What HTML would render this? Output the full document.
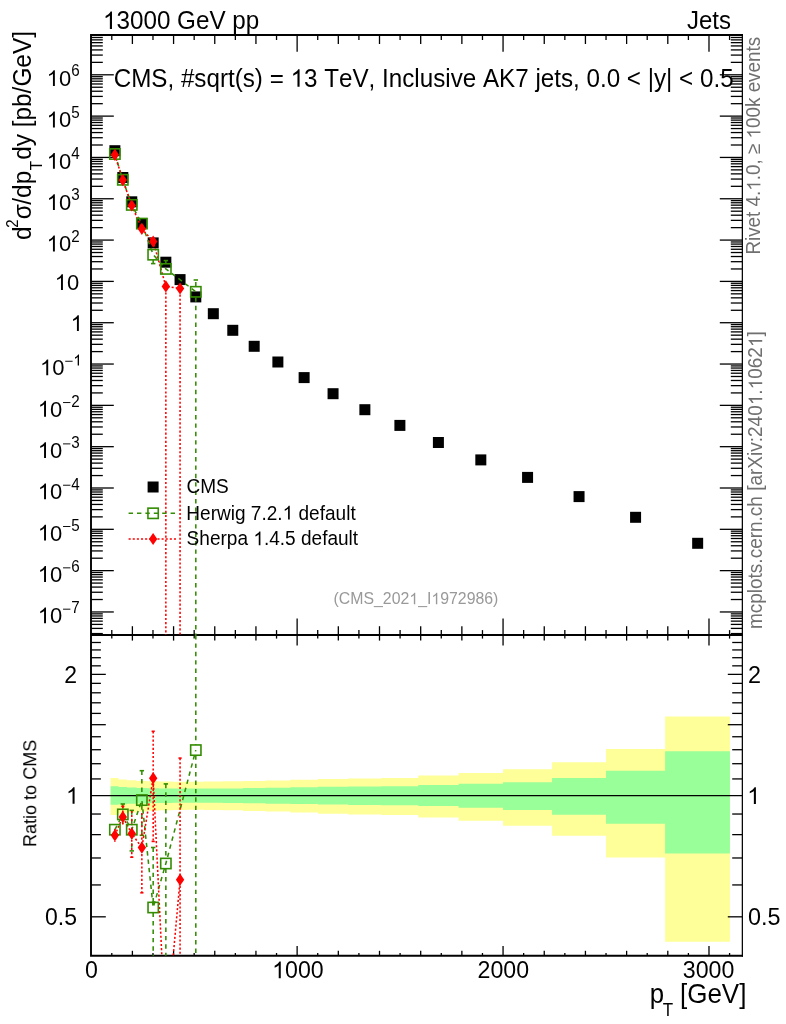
<!DOCTYPE html>
<html><head><meta charset="utf-8"><title>CMS jets</title>
<style>
html,body{margin:0;padding:0;background:#fff;}
body{width:786px;height:1024px;overflow:hidden;}
svg{display:block;font-family:"Liberation Sans", sans-serif;}
svg text{font-family:"Liberation Sans", sans-serif;font-kerning:none;white-space:pre;}
.tx{opacity:0.999;}
</style></head><body>
<svg width="786" height="1024" viewBox="0 0 786 1024">
<rect width="786" height="1024" fill="#fff"/>
<g class="tx">
<polygon points="110.60,778.10 118.59,778.10 118.59,779.60 127.03,779.60 127.03,780.30 136.50,780.30 136.50,780.90 147.21,780.90 147.21,781.30 159.16,781.30 159.16,781.60 172.54,781.60 172.54,781.70 187.58,781.70 187.58,781.70 204.05,781.70 204.05,781.60 222.58,781.60 222.58,781.30 242.97,781.30 242.97,780.90 265.42,780.90 265.42,780.40 290.33,780.40 290.33,779.80 317.93,779.80 317.93,779.00 348.20,779.00 348.20,778.60 381.56,778.60 381.56,778.00 418.22,778.00 418.22,775.50 458.58,775.50 458.58,773.00 503.06,773.00 503.06,769.30 552.07,769.30 552.07,762.20 606.03,762.20 606.03,748.90 665.13,748.90 665.13,716.60 729.95,716.60 729.95,941.80 665.13,941.80 665.13,857.60 606.03,857.60 606.03,835.80 552.07,835.80 552.07,825.70 503.06,825.70 503.06,820.80 458.58,820.80 458.58,817.50 418.22,817.50 418.22,815.10 381.56,815.10 381.56,814.40 348.20,814.40 348.20,813.80 317.93,813.80 317.93,812.60 290.33,812.60 290.33,811.60 265.42,811.60 265.42,810.90 242.97,810.90 242.97,810.30 222.58,810.30 222.58,809.90 204.05,809.90 204.05,809.70 187.58,809.70 187.58,809.90 172.54,809.90 172.54,810.20 159.16,810.20 159.16,810.70 147.21,810.70 147.21,811.50 136.50,811.50 136.50,812.50 127.03,812.50 127.03,813.50 118.59,813.50 118.59,815.00 110.60,815.00" fill="#ffff99"/>
<polygon points="110.60,786.30 118.59,786.30 118.59,787.00 127.03,787.00 127.03,787.60 136.50,787.60 136.50,788.00 147.21,788.00 147.21,788.30 159.16,788.30 159.16,788.50 172.54,788.50 172.54,788.60 187.58,788.60 187.58,788.60 204.05,788.60 204.05,788.60 222.58,788.60 222.58,788.40 242.97,788.40 242.97,788.10 265.42,788.10 265.42,787.80 290.33,787.80 290.33,787.30 317.93,787.30 317.93,786.80 348.20,786.80 348.20,786.60 381.56,786.60 381.56,786.20 418.22,786.20 418.22,785.00 458.58,785.00 458.58,783.70 503.06,783.70 503.06,782.20 552.07,782.20 552.07,778.00 606.03,778.00 606.03,770.80 665.13,770.80 665.13,751.30 729.95,751.30 729.95,853.60 665.13,853.60 665.13,823.70 606.03,823.70 606.03,814.70 552.07,814.70 552.07,810.00 503.06,810.00 503.06,807.80 458.58,807.80 458.58,806.10 418.22,806.10 418.22,805.20 381.56,805.20 381.56,804.90 348.20,804.90 348.20,804.60 317.93,804.60 317.93,804.10 290.33,804.10 290.33,803.70 265.42,803.70 265.42,803.30 242.97,803.30 242.97,803.00 222.58,803.00 222.58,802.80 204.05,802.80 204.05,802.80 187.58,802.80 187.58,802.80 172.54,802.80 172.54,802.90 159.16,802.90 159.16,803.10 147.21,803.10 147.21,803.40 136.50,803.40 136.50,803.80 127.03,803.80 127.03,804.30 118.59,804.30 118.59,804.80 110.60,804.80" fill="#99ff99"/>
<line x1="91.00" y1="795.60" x2="742.00" y2="795.60" stroke="#000" stroke-width="1.3" />
<path d="M742.95,35.0 H91.0 V955.8 H742.95" fill="none" stroke="#000" stroke-width="1.9" stroke-linejoin="miter"/>
<line x1="742.35" y1="34.05" x2="742.35" y2="956.75" stroke="#000" stroke-width="1.25" />
<line x1="91.00" y1="635.00" x2="742.90" y2="635.00" stroke="#000" stroke-width="1.8" />
<line x1="91.00" y1="633.57" x2="102.80" y2="633.57" stroke="#000" stroke-width="1.3" />
<line x1="742.00" y1="633.57" x2="730.80" y2="633.57" stroke="#000" stroke-width="1.3" />
<line x1="91.00" y1="628.40" x2="102.80" y2="628.40" stroke="#000" stroke-width="1.3" />
<line x1="742.00" y1="628.40" x2="730.80" y2="628.40" stroke="#000" stroke-width="1.3" />
<line x1="91.00" y1="624.40" x2="102.80" y2="624.40" stroke="#000" stroke-width="1.3" />
<line x1="742.00" y1="624.40" x2="730.80" y2="624.40" stroke="#000" stroke-width="1.3" />
<line x1="91.00" y1="621.13" x2="102.80" y2="621.13" stroke="#000" stroke-width="1.3" />
<line x1="742.00" y1="621.13" x2="730.80" y2="621.13" stroke="#000" stroke-width="1.3" />
<line x1="91.00" y1="618.36" x2="102.80" y2="618.36" stroke="#000" stroke-width="1.3" />
<line x1="742.00" y1="618.36" x2="730.80" y2="618.36" stroke="#000" stroke-width="1.3" />
<line x1="91.00" y1="615.96" x2="102.80" y2="615.96" stroke="#000" stroke-width="1.3" />
<line x1="742.00" y1="615.96" x2="730.80" y2="615.96" stroke="#000" stroke-width="1.3" />
<line x1="91.00" y1="613.85" x2="102.80" y2="613.85" stroke="#000" stroke-width="1.3" />
<line x1="742.00" y1="613.85" x2="730.80" y2="613.85" stroke="#000" stroke-width="1.3" />
<line x1="91.00" y1="611.96" x2="113.80" y2="611.96" stroke="#000" stroke-width="1.3" />
<line x1="742.00" y1="611.96" x2="719.80" y2="611.96" stroke="#000" stroke-width="1.3" />
<line x1="91.00" y1="599.52" x2="102.80" y2="599.52" stroke="#000" stroke-width="1.3" />
<line x1="742.00" y1="599.52" x2="730.80" y2="599.52" stroke="#000" stroke-width="1.3" />
<line x1="91.00" y1="592.25" x2="102.80" y2="592.25" stroke="#000" stroke-width="1.3" />
<line x1="742.00" y1="592.25" x2="730.80" y2="592.25" stroke="#000" stroke-width="1.3" />
<line x1="91.00" y1="587.08" x2="102.80" y2="587.08" stroke="#000" stroke-width="1.3" />
<line x1="742.00" y1="587.08" x2="730.80" y2="587.08" stroke="#000" stroke-width="1.3" />
<line x1="91.00" y1="583.08" x2="102.80" y2="583.08" stroke="#000" stroke-width="1.3" />
<line x1="742.00" y1="583.08" x2="730.80" y2="583.08" stroke="#000" stroke-width="1.3" />
<line x1="91.00" y1="579.81" x2="102.80" y2="579.81" stroke="#000" stroke-width="1.3" />
<line x1="742.00" y1="579.81" x2="730.80" y2="579.81" stroke="#000" stroke-width="1.3" />
<line x1="91.00" y1="577.04" x2="102.80" y2="577.04" stroke="#000" stroke-width="1.3" />
<line x1="742.00" y1="577.04" x2="730.80" y2="577.04" stroke="#000" stroke-width="1.3" />
<line x1="91.00" y1="574.64" x2="102.80" y2="574.64" stroke="#000" stroke-width="1.3" />
<line x1="742.00" y1="574.64" x2="730.80" y2="574.64" stroke="#000" stroke-width="1.3" />
<line x1="91.00" y1="572.53" x2="102.80" y2="572.53" stroke="#000" stroke-width="1.3" />
<line x1="742.00" y1="572.53" x2="730.80" y2="572.53" stroke="#000" stroke-width="1.3" />
<line x1="91.00" y1="570.64" x2="113.80" y2="570.64" stroke="#000" stroke-width="1.3" />
<line x1="742.00" y1="570.64" x2="719.80" y2="570.64" stroke="#000" stroke-width="1.3" />
<line x1="91.00" y1="558.20" x2="102.80" y2="558.20" stroke="#000" stroke-width="1.3" />
<line x1="742.00" y1="558.20" x2="730.80" y2="558.20" stroke="#000" stroke-width="1.3" />
<line x1="91.00" y1="550.93" x2="102.80" y2="550.93" stroke="#000" stroke-width="1.3" />
<line x1="742.00" y1="550.93" x2="730.80" y2="550.93" stroke="#000" stroke-width="1.3" />
<line x1="91.00" y1="545.76" x2="102.80" y2="545.76" stroke="#000" stroke-width="1.3" />
<line x1="742.00" y1="545.76" x2="730.80" y2="545.76" stroke="#000" stroke-width="1.3" />
<line x1="91.00" y1="541.76" x2="102.80" y2="541.76" stroke="#000" stroke-width="1.3" />
<line x1="742.00" y1="541.76" x2="730.80" y2="541.76" stroke="#000" stroke-width="1.3" />
<line x1="91.00" y1="538.49" x2="102.80" y2="538.49" stroke="#000" stroke-width="1.3" />
<line x1="742.00" y1="538.49" x2="730.80" y2="538.49" stroke="#000" stroke-width="1.3" />
<line x1="91.00" y1="535.72" x2="102.80" y2="535.72" stroke="#000" stroke-width="1.3" />
<line x1="742.00" y1="535.72" x2="730.80" y2="535.72" stroke="#000" stroke-width="1.3" />
<line x1="91.00" y1="533.32" x2="102.80" y2="533.32" stroke="#000" stroke-width="1.3" />
<line x1="742.00" y1="533.32" x2="730.80" y2="533.32" stroke="#000" stroke-width="1.3" />
<line x1="91.00" y1="531.21" x2="102.80" y2="531.21" stroke="#000" stroke-width="1.3" />
<line x1="742.00" y1="531.21" x2="730.80" y2="531.21" stroke="#000" stroke-width="1.3" />
<line x1="91.00" y1="529.32" x2="113.80" y2="529.32" stroke="#000" stroke-width="1.3" />
<line x1="742.00" y1="529.32" x2="719.80" y2="529.32" stroke="#000" stroke-width="1.3" />
<line x1="91.00" y1="516.88" x2="102.80" y2="516.88" stroke="#000" stroke-width="1.3" />
<line x1="742.00" y1="516.88" x2="730.80" y2="516.88" stroke="#000" stroke-width="1.3" />
<line x1="91.00" y1="509.61" x2="102.80" y2="509.61" stroke="#000" stroke-width="1.3" />
<line x1="742.00" y1="509.61" x2="730.80" y2="509.61" stroke="#000" stroke-width="1.3" />
<line x1="91.00" y1="504.44" x2="102.80" y2="504.44" stroke="#000" stroke-width="1.3" />
<line x1="742.00" y1="504.44" x2="730.80" y2="504.44" stroke="#000" stroke-width="1.3" />
<line x1="91.00" y1="500.44" x2="102.80" y2="500.44" stroke="#000" stroke-width="1.3" />
<line x1="742.00" y1="500.44" x2="730.80" y2="500.44" stroke="#000" stroke-width="1.3" />
<line x1="91.00" y1="497.17" x2="102.80" y2="497.17" stroke="#000" stroke-width="1.3" />
<line x1="742.00" y1="497.17" x2="730.80" y2="497.17" stroke="#000" stroke-width="1.3" />
<line x1="91.00" y1="494.40" x2="102.80" y2="494.40" stroke="#000" stroke-width="1.3" />
<line x1="742.00" y1="494.40" x2="730.80" y2="494.40" stroke="#000" stroke-width="1.3" />
<line x1="91.00" y1="492.00" x2="102.80" y2="492.00" stroke="#000" stroke-width="1.3" />
<line x1="742.00" y1="492.00" x2="730.80" y2="492.00" stroke="#000" stroke-width="1.3" />
<line x1="91.00" y1="489.89" x2="102.80" y2="489.89" stroke="#000" stroke-width="1.3" />
<line x1="742.00" y1="489.89" x2="730.80" y2="489.89" stroke="#000" stroke-width="1.3" />
<line x1="91.00" y1="488.00" x2="113.80" y2="488.00" stroke="#000" stroke-width="1.3" />
<line x1="742.00" y1="488.00" x2="719.80" y2="488.00" stroke="#000" stroke-width="1.3" />
<line x1="91.00" y1="475.56" x2="102.80" y2="475.56" stroke="#000" stroke-width="1.3" />
<line x1="742.00" y1="475.56" x2="730.80" y2="475.56" stroke="#000" stroke-width="1.3" />
<line x1="91.00" y1="468.29" x2="102.80" y2="468.29" stroke="#000" stroke-width="1.3" />
<line x1="742.00" y1="468.29" x2="730.80" y2="468.29" stroke="#000" stroke-width="1.3" />
<line x1="91.00" y1="463.12" x2="102.80" y2="463.12" stroke="#000" stroke-width="1.3" />
<line x1="742.00" y1="463.12" x2="730.80" y2="463.12" stroke="#000" stroke-width="1.3" />
<line x1="91.00" y1="459.12" x2="102.80" y2="459.12" stroke="#000" stroke-width="1.3" />
<line x1="742.00" y1="459.12" x2="730.80" y2="459.12" stroke="#000" stroke-width="1.3" />
<line x1="91.00" y1="455.85" x2="102.80" y2="455.85" stroke="#000" stroke-width="1.3" />
<line x1="742.00" y1="455.85" x2="730.80" y2="455.85" stroke="#000" stroke-width="1.3" />
<line x1="91.00" y1="453.08" x2="102.80" y2="453.08" stroke="#000" stroke-width="1.3" />
<line x1="742.00" y1="453.08" x2="730.80" y2="453.08" stroke="#000" stroke-width="1.3" />
<line x1="91.00" y1="450.68" x2="102.80" y2="450.68" stroke="#000" stroke-width="1.3" />
<line x1="742.00" y1="450.68" x2="730.80" y2="450.68" stroke="#000" stroke-width="1.3" />
<line x1="91.00" y1="448.57" x2="102.80" y2="448.57" stroke="#000" stroke-width="1.3" />
<line x1="742.00" y1="448.57" x2="730.80" y2="448.57" stroke="#000" stroke-width="1.3" />
<line x1="91.00" y1="446.68" x2="113.80" y2="446.68" stroke="#000" stroke-width="1.3" />
<line x1="742.00" y1="446.68" x2="719.80" y2="446.68" stroke="#000" stroke-width="1.3" />
<line x1="91.00" y1="434.24" x2="102.80" y2="434.24" stroke="#000" stroke-width="1.3" />
<line x1="742.00" y1="434.24" x2="730.80" y2="434.24" stroke="#000" stroke-width="1.3" />
<line x1="91.00" y1="426.97" x2="102.80" y2="426.97" stroke="#000" stroke-width="1.3" />
<line x1="742.00" y1="426.97" x2="730.80" y2="426.97" stroke="#000" stroke-width="1.3" />
<line x1="91.00" y1="421.80" x2="102.80" y2="421.80" stroke="#000" stroke-width="1.3" />
<line x1="742.00" y1="421.80" x2="730.80" y2="421.80" stroke="#000" stroke-width="1.3" />
<line x1="91.00" y1="417.80" x2="102.80" y2="417.80" stroke="#000" stroke-width="1.3" />
<line x1="742.00" y1="417.80" x2="730.80" y2="417.80" stroke="#000" stroke-width="1.3" />
<line x1="91.00" y1="414.53" x2="102.80" y2="414.53" stroke="#000" stroke-width="1.3" />
<line x1="742.00" y1="414.53" x2="730.80" y2="414.53" stroke="#000" stroke-width="1.3" />
<line x1="91.00" y1="411.76" x2="102.80" y2="411.76" stroke="#000" stroke-width="1.3" />
<line x1="742.00" y1="411.76" x2="730.80" y2="411.76" stroke="#000" stroke-width="1.3" />
<line x1="91.00" y1="409.36" x2="102.80" y2="409.36" stroke="#000" stroke-width="1.3" />
<line x1="742.00" y1="409.36" x2="730.80" y2="409.36" stroke="#000" stroke-width="1.3" />
<line x1="91.00" y1="407.25" x2="102.80" y2="407.25" stroke="#000" stroke-width="1.3" />
<line x1="742.00" y1="407.25" x2="730.80" y2="407.25" stroke="#000" stroke-width="1.3" />
<line x1="91.00" y1="405.36" x2="113.80" y2="405.36" stroke="#000" stroke-width="1.3" />
<line x1="742.00" y1="405.36" x2="719.80" y2="405.36" stroke="#000" stroke-width="1.3" />
<line x1="91.00" y1="392.92" x2="102.80" y2="392.92" stroke="#000" stroke-width="1.3" />
<line x1="742.00" y1="392.92" x2="730.80" y2="392.92" stroke="#000" stroke-width="1.3" />
<line x1="91.00" y1="385.65" x2="102.80" y2="385.65" stroke="#000" stroke-width="1.3" />
<line x1="742.00" y1="385.65" x2="730.80" y2="385.65" stroke="#000" stroke-width="1.3" />
<line x1="91.00" y1="380.48" x2="102.80" y2="380.48" stroke="#000" stroke-width="1.3" />
<line x1="742.00" y1="380.48" x2="730.80" y2="380.48" stroke="#000" stroke-width="1.3" />
<line x1="91.00" y1="376.48" x2="102.80" y2="376.48" stroke="#000" stroke-width="1.3" />
<line x1="742.00" y1="376.48" x2="730.80" y2="376.48" stroke="#000" stroke-width="1.3" />
<line x1="91.00" y1="373.21" x2="102.80" y2="373.21" stroke="#000" stroke-width="1.3" />
<line x1="742.00" y1="373.21" x2="730.80" y2="373.21" stroke="#000" stroke-width="1.3" />
<line x1="91.00" y1="370.44" x2="102.80" y2="370.44" stroke="#000" stroke-width="1.3" />
<line x1="742.00" y1="370.44" x2="730.80" y2="370.44" stroke="#000" stroke-width="1.3" />
<line x1="91.00" y1="368.04" x2="102.80" y2="368.04" stroke="#000" stroke-width="1.3" />
<line x1="742.00" y1="368.04" x2="730.80" y2="368.04" stroke="#000" stroke-width="1.3" />
<line x1="91.00" y1="365.93" x2="102.80" y2="365.93" stroke="#000" stroke-width="1.3" />
<line x1="742.00" y1="365.93" x2="730.80" y2="365.93" stroke="#000" stroke-width="1.3" />
<line x1="91.00" y1="364.04" x2="113.80" y2="364.04" stroke="#000" stroke-width="1.3" />
<line x1="742.00" y1="364.04" x2="719.80" y2="364.04" stroke="#000" stroke-width="1.3" />
<line x1="91.00" y1="351.60" x2="102.80" y2="351.60" stroke="#000" stroke-width="1.3" />
<line x1="742.00" y1="351.60" x2="730.80" y2="351.60" stroke="#000" stroke-width="1.3" />
<line x1="91.00" y1="344.33" x2="102.80" y2="344.33" stroke="#000" stroke-width="1.3" />
<line x1="742.00" y1="344.33" x2="730.80" y2="344.33" stroke="#000" stroke-width="1.3" />
<line x1="91.00" y1="339.16" x2="102.80" y2="339.16" stroke="#000" stroke-width="1.3" />
<line x1="742.00" y1="339.16" x2="730.80" y2="339.16" stroke="#000" stroke-width="1.3" />
<line x1="91.00" y1="335.16" x2="102.80" y2="335.16" stroke="#000" stroke-width="1.3" />
<line x1="742.00" y1="335.16" x2="730.80" y2="335.16" stroke="#000" stroke-width="1.3" />
<line x1="91.00" y1="331.89" x2="102.80" y2="331.89" stroke="#000" stroke-width="1.3" />
<line x1="742.00" y1="331.89" x2="730.80" y2="331.89" stroke="#000" stroke-width="1.3" />
<line x1="91.00" y1="329.12" x2="102.80" y2="329.12" stroke="#000" stroke-width="1.3" />
<line x1="742.00" y1="329.12" x2="730.80" y2="329.12" stroke="#000" stroke-width="1.3" />
<line x1="91.00" y1="326.72" x2="102.80" y2="326.72" stroke="#000" stroke-width="1.3" />
<line x1="742.00" y1="326.72" x2="730.80" y2="326.72" stroke="#000" stroke-width="1.3" />
<line x1="91.00" y1="324.61" x2="102.80" y2="324.61" stroke="#000" stroke-width="1.3" />
<line x1="742.00" y1="324.61" x2="730.80" y2="324.61" stroke="#000" stroke-width="1.3" />
<line x1="91.00" y1="322.72" x2="113.80" y2="322.72" stroke="#000" stroke-width="1.3" />
<line x1="742.00" y1="322.72" x2="719.80" y2="322.72" stroke="#000" stroke-width="1.3" />
<line x1="91.00" y1="310.28" x2="102.80" y2="310.28" stroke="#000" stroke-width="1.3" />
<line x1="742.00" y1="310.28" x2="730.80" y2="310.28" stroke="#000" stroke-width="1.3" />
<line x1="91.00" y1="303.01" x2="102.80" y2="303.01" stroke="#000" stroke-width="1.3" />
<line x1="742.00" y1="303.01" x2="730.80" y2="303.01" stroke="#000" stroke-width="1.3" />
<line x1="91.00" y1="297.84" x2="102.80" y2="297.84" stroke="#000" stroke-width="1.3" />
<line x1="742.00" y1="297.84" x2="730.80" y2="297.84" stroke="#000" stroke-width="1.3" />
<line x1="91.00" y1="293.84" x2="102.80" y2="293.84" stroke="#000" stroke-width="1.3" />
<line x1="742.00" y1="293.84" x2="730.80" y2="293.84" stroke="#000" stroke-width="1.3" />
<line x1="91.00" y1="290.57" x2="102.80" y2="290.57" stroke="#000" stroke-width="1.3" />
<line x1="742.00" y1="290.57" x2="730.80" y2="290.57" stroke="#000" stroke-width="1.3" />
<line x1="91.00" y1="287.80" x2="102.80" y2="287.80" stroke="#000" stroke-width="1.3" />
<line x1="742.00" y1="287.80" x2="730.80" y2="287.80" stroke="#000" stroke-width="1.3" />
<line x1="91.00" y1="285.40" x2="102.80" y2="285.40" stroke="#000" stroke-width="1.3" />
<line x1="742.00" y1="285.40" x2="730.80" y2="285.40" stroke="#000" stroke-width="1.3" />
<line x1="91.00" y1="283.29" x2="102.80" y2="283.29" stroke="#000" stroke-width="1.3" />
<line x1="742.00" y1="283.29" x2="730.80" y2="283.29" stroke="#000" stroke-width="1.3" />
<line x1="91.00" y1="281.40" x2="113.80" y2="281.40" stroke="#000" stroke-width="1.3" />
<line x1="742.00" y1="281.40" x2="719.80" y2="281.40" stroke="#000" stroke-width="1.3" />
<line x1="91.00" y1="268.96" x2="102.80" y2="268.96" stroke="#000" stroke-width="1.3" />
<line x1="742.00" y1="268.96" x2="730.80" y2="268.96" stroke="#000" stroke-width="1.3" />
<line x1="91.00" y1="261.69" x2="102.80" y2="261.69" stroke="#000" stroke-width="1.3" />
<line x1="742.00" y1="261.69" x2="730.80" y2="261.69" stroke="#000" stroke-width="1.3" />
<line x1="91.00" y1="256.52" x2="102.80" y2="256.52" stroke="#000" stroke-width="1.3" />
<line x1="742.00" y1="256.52" x2="730.80" y2="256.52" stroke="#000" stroke-width="1.3" />
<line x1="91.00" y1="252.52" x2="102.80" y2="252.52" stroke="#000" stroke-width="1.3" />
<line x1="742.00" y1="252.52" x2="730.80" y2="252.52" stroke="#000" stroke-width="1.3" />
<line x1="91.00" y1="249.25" x2="102.80" y2="249.25" stroke="#000" stroke-width="1.3" />
<line x1="742.00" y1="249.25" x2="730.80" y2="249.25" stroke="#000" stroke-width="1.3" />
<line x1="91.00" y1="246.48" x2="102.80" y2="246.48" stroke="#000" stroke-width="1.3" />
<line x1="742.00" y1="246.48" x2="730.80" y2="246.48" stroke="#000" stroke-width="1.3" />
<line x1="91.00" y1="244.08" x2="102.80" y2="244.08" stroke="#000" stroke-width="1.3" />
<line x1="742.00" y1="244.08" x2="730.80" y2="244.08" stroke="#000" stroke-width="1.3" />
<line x1="91.00" y1="241.97" x2="102.80" y2="241.97" stroke="#000" stroke-width="1.3" />
<line x1="742.00" y1="241.97" x2="730.80" y2="241.97" stroke="#000" stroke-width="1.3" />
<line x1="91.00" y1="240.08" x2="113.80" y2="240.08" stroke="#000" stroke-width="1.3" />
<line x1="742.00" y1="240.08" x2="719.80" y2="240.08" stroke="#000" stroke-width="1.3" />
<line x1="91.00" y1="227.64" x2="102.80" y2="227.64" stroke="#000" stroke-width="1.3" />
<line x1="742.00" y1="227.64" x2="730.80" y2="227.64" stroke="#000" stroke-width="1.3" />
<line x1="91.00" y1="220.37" x2="102.80" y2="220.37" stroke="#000" stroke-width="1.3" />
<line x1="742.00" y1="220.37" x2="730.80" y2="220.37" stroke="#000" stroke-width="1.3" />
<line x1="91.00" y1="215.20" x2="102.80" y2="215.20" stroke="#000" stroke-width="1.3" />
<line x1="742.00" y1="215.20" x2="730.80" y2="215.20" stroke="#000" stroke-width="1.3" />
<line x1="91.00" y1="211.20" x2="102.80" y2="211.20" stroke="#000" stroke-width="1.3" />
<line x1="742.00" y1="211.20" x2="730.80" y2="211.20" stroke="#000" stroke-width="1.3" />
<line x1="91.00" y1="207.93" x2="102.80" y2="207.93" stroke="#000" stroke-width="1.3" />
<line x1="742.00" y1="207.93" x2="730.80" y2="207.93" stroke="#000" stroke-width="1.3" />
<line x1="91.00" y1="205.16" x2="102.80" y2="205.16" stroke="#000" stroke-width="1.3" />
<line x1="742.00" y1="205.16" x2="730.80" y2="205.16" stroke="#000" stroke-width="1.3" />
<line x1="91.00" y1="202.76" x2="102.80" y2="202.76" stroke="#000" stroke-width="1.3" />
<line x1="742.00" y1="202.76" x2="730.80" y2="202.76" stroke="#000" stroke-width="1.3" />
<line x1="91.00" y1="200.65" x2="102.80" y2="200.65" stroke="#000" stroke-width="1.3" />
<line x1="742.00" y1="200.65" x2="730.80" y2="200.65" stroke="#000" stroke-width="1.3" />
<line x1="91.00" y1="198.76" x2="113.80" y2="198.76" stroke="#000" stroke-width="1.3" />
<line x1="742.00" y1="198.76" x2="719.80" y2="198.76" stroke="#000" stroke-width="1.3" />
<line x1="91.00" y1="186.32" x2="102.80" y2="186.32" stroke="#000" stroke-width="1.3" />
<line x1="742.00" y1="186.32" x2="730.80" y2="186.32" stroke="#000" stroke-width="1.3" />
<line x1="91.00" y1="179.05" x2="102.80" y2="179.05" stroke="#000" stroke-width="1.3" />
<line x1="742.00" y1="179.05" x2="730.80" y2="179.05" stroke="#000" stroke-width="1.3" />
<line x1="91.00" y1="173.88" x2="102.80" y2="173.88" stroke="#000" stroke-width="1.3" />
<line x1="742.00" y1="173.88" x2="730.80" y2="173.88" stroke="#000" stroke-width="1.3" />
<line x1="91.00" y1="169.88" x2="102.80" y2="169.88" stroke="#000" stroke-width="1.3" />
<line x1="742.00" y1="169.88" x2="730.80" y2="169.88" stroke="#000" stroke-width="1.3" />
<line x1="91.00" y1="166.61" x2="102.80" y2="166.61" stroke="#000" stroke-width="1.3" />
<line x1="742.00" y1="166.61" x2="730.80" y2="166.61" stroke="#000" stroke-width="1.3" />
<line x1="91.00" y1="163.84" x2="102.80" y2="163.84" stroke="#000" stroke-width="1.3" />
<line x1="742.00" y1="163.84" x2="730.80" y2="163.84" stroke="#000" stroke-width="1.3" />
<line x1="91.00" y1="161.44" x2="102.80" y2="161.44" stroke="#000" stroke-width="1.3" />
<line x1="742.00" y1="161.44" x2="730.80" y2="161.44" stroke="#000" stroke-width="1.3" />
<line x1="91.00" y1="159.33" x2="102.80" y2="159.33" stroke="#000" stroke-width="1.3" />
<line x1="742.00" y1="159.33" x2="730.80" y2="159.33" stroke="#000" stroke-width="1.3" />
<line x1="91.00" y1="157.44" x2="113.80" y2="157.44" stroke="#000" stroke-width="1.3" />
<line x1="742.00" y1="157.44" x2="719.80" y2="157.44" stroke="#000" stroke-width="1.3" />
<line x1="91.00" y1="145.00" x2="102.80" y2="145.00" stroke="#000" stroke-width="1.3" />
<line x1="742.00" y1="145.00" x2="730.80" y2="145.00" stroke="#000" stroke-width="1.3" />
<line x1="91.00" y1="137.73" x2="102.80" y2="137.73" stroke="#000" stroke-width="1.3" />
<line x1="742.00" y1="137.73" x2="730.80" y2="137.73" stroke="#000" stroke-width="1.3" />
<line x1="91.00" y1="132.56" x2="102.80" y2="132.56" stroke="#000" stroke-width="1.3" />
<line x1="742.00" y1="132.56" x2="730.80" y2="132.56" stroke="#000" stroke-width="1.3" />
<line x1="91.00" y1="128.56" x2="102.80" y2="128.56" stroke="#000" stroke-width="1.3" />
<line x1="742.00" y1="128.56" x2="730.80" y2="128.56" stroke="#000" stroke-width="1.3" />
<line x1="91.00" y1="125.29" x2="102.80" y2="125.29" stroke="#000" stroke-width="1.3" />
<line x1="742.00" y1="125.29" x2="730.80" y2="125.29" stroke="#000" stroke-width="1.3" />
<line x1="91.00" y1="122.52" x2="102.80" y2="122.52" stroke="#000" stroke-width="1.3" />
<line x1="742.00" y1="122.52" x2="730.80" y2="122.52" stroke="#000" stroke-width="1.3" />
<line x1="91.00" y1="120.12" x2="102.80" y2="120.12" stroke="#000" stroke-width="1.3" />
<line x1="742.00" y1="120.12" x2="730.80" y2="120.12" stroke="#000" stroke-width="1.3" />
<line x1="91.00" y1="118.01" x2="102.80" y2="118.01" stroke="#000" stroke-width="1.3" />
<line x1="742.00" y1="118.01" x2="730.80" y2="118.01" stroke="#000" stroke-width="1.3" />
<line x1="91.00" y1="116.12" x2="113.80" y2="116.12" stroke="#000" stroke-width="1.3" />
<line x1="742.00" y1="116.12" x2="719.80" y2="116.12" stroke="#000" stroke-width="1.3" />
<line x1="91.00" y1="103.68" x2="102.80" y2="103.68" stroke="#000" stroke-width="1.3" />
<line x1="742.00" y1="103.68" x2="730.80" y2="103.68" stroke="#000" stroke-width="1.3" />
<line x1="91.00" y1="96.41" x2="102.80" y2="96.41" stroke="#000" stroke-width="1.3" />
<line x1="742.00" y1="96.41" x2="730.80" y2="96.41" stroke="#000" stroke-width="1.3" />
<line x1="91.00" y1="91.24" x2="102.80" y2="91.24" stroke="#000" stroke-width="1.3" />
<line x1="742.00" y1="91.24" x2="730.80" y2="91.24" stroke="#000" stroke-width="1.3" />
<line x1="91.00" y1="87.24" x2="102.80" y2="87.24" stroke="#000" stroke-width="1.3" />
<line x1="742.00" y1="87.24" x2="730.80" y2="87.24" stroke="#000" stroke-width="1.3" />
<line x1="91.00" y1="83.97" x2="102.80" y2="83.97" stroke="#000" stroke-width="1.3" />
<line x1="742.00" y1="83.97" x2="730.80" y2="83.97" stroke="#000" stroke-width="1.3" />
<line x1="91.00" y1="81.20" x2="102.80" y2="81.20" stroke="#000" stroke-width="1.3" />
<line x1="742.00" y1="81.20" x2="730.80" y2="81.20" stroke="#000" stroke-width="1.3" />
<line x1="91.00" y1="78.80" x2="102.80" y2="78.80" stroke="#000" stroke-width="1.3" />
<line x1="742.00" y1="78.80" x2="730.80" y2="78.80" stroke="#000" stroke-width="1.3" />
<line x1="91.00" y1="76.69" x2="102.80" y2="76.69" stroke="#000" stroke-width="1.3" />
<line x1="742.00" y1="76.69" x2="730.80" y2="76.69" stroke="#000" stroke-width="1.3" />
<line x1="91.00" y1="74.80" x2="113.80" y2="74.80" stroke="#000" stroke-width="1.3" />
<line x1="742.00" y1="74.80" x2="719.80" y2="74.80" stroke="#000" stroke-width="1.3" />
<line x1="91.00" y1="62.36" x2="102.80" y2="62.36" stroke="#000" stroke-width="1.3" />
<line x1="742.00" y1="62.36" x2="730.80" y2="62.36" stroke="#000" stroke-width="1.3" />
<line x1="91.00" y1="55.09" x2="102.80" y2="55.09" stroke="#000" stroke-width="1.3" />
<line x1="742.00" y1="55.09" x2="730.80" y2="55.09" stroke="#000" stroke-width="1.3" />
<line x1="91.00" y1="49.92" x2="102.80" y2="49.92" stroke="#000" stroke-width="1.3" />
<line x1="742.00" y1="49.92" x2="730.80" y2="49.92" stroke="#000" stroke-width="1.3" />
<line x1="91.00" y1="45.92" x2="102.80" y2="45.92" stroke="#000" stroke-width="1.3" />
<line x1="742.00" y1="45.92" x2="730.80" y2="45.92" stroke="#000" stroke-width="1.3" />
<line x1="91.00" y1="42.65" x2="102.80" y2="42.65" stroke="#000" stroke-width="1.3" />
<line x1="742.00" y1="42.65" x2="730.80" y2="42.65" stroke="#000" stroke-width="1.3" />
<line x1="91.00" y1="39.88" x2="102.80" y2="39.88" stroke="#000" stroke-width="1.3" />
<line x1="742.00" y1="39.88" x2="730.80" y2="39.88" stroke="#000" stroke-width="1.3" />
<line x1="91.00" y1="37.48" x2="102.80" y2="37.48" stroke="#000" stroke-width="1.3" />
<line x1="742.00" y1="37.48" x2="730.80" y2="37.48" stroke="#000" stroke-width="1.3" />
<line x1="111.79" y1="35.00" x2="111.79" y2="40.00" stroke="#000" stroke-width="1.3" />
<line x1="111.79" y1="630.10" x2="111.79" y2="638.60" stroke="#000" stroke-width="1.3" />
<line x1="111.79" y1="955.80" x2="111.79" y2="953.00" stroke="#000" stroke-width="1.3" />
<line x1="132.39" y1="35.00" x2="132.39" y2="44.00" stroke="#000" stroke-width="1.3" />
<line x1="132.39" y1="626.20" x2="132.39" y2="640.60" stroke="#000" stroke-width="1.3" />
<line x1="132.39" y1="955.80" x2="132.39" y2="950.80" stroke="#000" stroke-width="1.3" />
<line x1="152.98" y1="35.00" x2="152.98" y2="40.00" stroke="#000" stroke-width="1.3" />
<line x1="152.98" y1="630.10" x2="152.98" y2="638.60" stroke="#000" stroke-width="1.3" />
<line x1="152.98" y1="955.80" x2="152.98" y2="953.00" stroke="#000" stroke-width="1.3" />
<line x1="173.57" y1="35.00" x2="173.57" y2="44.00" stroke="#000" stroke-width="1.3" />
<line x1="173.57" y1="626.20" x2="173.57" y2="640.60" stroke="#000" stroke-width="1.3" />
<line x1="173.57" y1="955.80" x2="173.57" y2="950.80" stroke="#000" stroke-width="1.3" />
<line x1="194.17" y1="35.00" x2="194.17" y2="40.00" stroke="#000" stroke-width="1.3" />
<line x1="194.17" y1="630.10" x2="194.17" y2="638.60" stroke="#000" stroke-width="1.3" />
<line x1="194.17" y1="955.80" x2="194.17" y2="953.00" stroke="#000" stroke-width="1.3" />
<line x1="214.76" y1="35.00" x2="214.76" y2="44.00" stroke="#000" stroke-width="1.3" />
<line x1="214.76" y1="626.20" x2="214.76" y2="640.60" stroke="#000" stroke-width="1.3" />
<line x1="214.76" y1="955.80" x2="214.76" y2="950.80" stroke="#000" stroke-width="1.3" />
<line x1="235.35" y1="35.00" x2="235.35" y2="40.00" stroke="#000" stroke-width="1.3" />
<line x1="235.35" y1="630.10" x2="235.35" y2="638.60" stroke="#000" stroke-width="1.3" />
<line x1="235.35" y1="955.80" x2="235.35" y2="953.00" stroke="#000" stroke-width="1.3" />
<line x1="255.94" y1="35.00" x2="255.94" y2="44.00" stroke="#000" stroke-width="1.3" />
<line x1="255.94" y1="626.20" x2="255.94" y2="640.60" stroke="#000" stroke-width="1.3" />
<line x1="255.94" y1="955.80" x2="255.94" y2="950.80" stroke="#000" stroke-width="1.3" />
<line x1="276.54" y1="35.00" x2="276.54" y2="40.00" stroke="#000" stroke-width="1.3" />
<line x1="276.54" y1="630.10" x2="276.54" y2="638.60" stroke="#000" stroke-width="1.3" />
<line x1="276.54" y1="955.80" x2="276.54" y2="953.00" stroke="#000" stroke-width="1.3" />
<line x1="297.13" y1="35.00" x2="297.13" y2="51.80" stroke="#000" stroke-width="1.3" />
<line x1="297.13" y1="618.40" x2="297.13" y2="645.60" stroke="#000" stroke-width="1.3" />
<line x1="297.13" y1="955.80" x2="297.13" y2="946.10" stroke="#000" stroke-width="1.3" />
<line x1="317.72" y1="35.00" x2="317.72" y2="40.00" stroke="#000" stroke-width="1.3" />
<line x1="317.72" y1="630.10" x2="317.72" y2="638.60" stroke="#000" stroke-width="1.3" />
<line x1="317.72" y1="955.80" x2="317.72" y2="953.00" stroke="#000" stroke-width="1.3" />
<line x1="338.32" y1="35.00" x2="338.32" y2="44.00" stroke="#000" stroke-width="1.3" />
<line x1="338.32" y1="626.20" x2="338.32" y2="640.60" stroke="#000" stroke-width="1.3" />
<line x1="338.32" y1="955.80" x2="338.32" y2="950.80" stroke="#000" stroke-width="1.3" />
<line x1="358.91" y1="35.00" x2="358.91" y2="40.00" stroke="#000" stroke-width="1.3" />
<line x1="358.91" y1="630.10" x2="358.91" y2="638.60" stroke="#000" stroke-width="1.3" />
<line x1="358.91" y1="955.80" x2="358.91" y2="953.00" stroke="#000" stroke-width="1.3" />
<line x1="379.50" y1="35.00" x2="379.50" y2="44.00" stroke="#000" stroke-width="1.3" />
<line x1="379.50" y1="626.20" x2="379.50" y2="640.60" stroke="#000" stroke-width="1.3" />
<line x1="379.50" y1="955.80" x2="379.50" y2="950.80" stroke="#000" stroke-width="1.3" />
<line x1="400.09" y1="35.00" x2="400.09" y2="40.00" stroke="#000" stroke-width="1.3" />
<line x1="400.09" y1="630.10" x2="400.09" y2="638.60" stroke="#000" stroke-width="1.3" />
<line x1="400.09" y1="955.80" x2="400.09" y2="953.00" stroke="#000" stroke-width="1.3" />
<line x1="420.69" y1="35.00" x2="420.69" y2="44.00" stroke="#000" stroke-width="1.3" />
<line x1="420.69" y1="626.20" x2="420.69" y2="640.60" stroke="#000" stroke-width="1.3" />
<line x1="420.69" y1="955.80" x2="420.69" y2="950.80" stroke="#000" stroke-width="1.3" />
<line x1="441.28" y1="35.00" x2="441.28" y2="40.00" stroke="#000" stroke-width="1.3" />
<line x1="441.28" y1="630.10" x2="441.28" y2="638.60" stroke="#000" stroke-width="1.3" />
<line x1="441.28" y1="955.80" x2="441.28" y2="953.00" stroke="#000" stroke-width="1.3" />
<line x1="461.87" y1="35.00" x2="461.87" y2="44.00" stroke="#000" stroke-width="1.3" />
<line x1="461.87" y1="626.20" x2="461.87" y2="640.60" stroke="#000" stroke-width="1.3" />
<line x1="461.87" y1="955.80" x2="461.87" y2="950.80" stroke="#000" stroke-width="1.3" />
<line x1="482.47" y1="35.00" x2="482.47" y2="40.00" stroke="#000" stroke-width="1.3" />
<line x1="482.47" y1="630.10" x2="482.47" y2="638.60" stroke="#000" stroke-width="1.3" />
<line x1="482.47" y1="955.80" x2="482.47" y2="953.00" stroke="#000" stroke-width="1.3" />
<line x1="503.06" y1="35.00" x2="503.06" y2="51.80" stroke="#000" stroke-width="1.3" />
<line x1="503.06" y1="618.40" x2="503.06" y2="645.60" stroke="#000" stroke-width="1.3" />
<line x1="503.06" y1="955.80" x2="503.06" y2="946.10" stroke="#000" stroke-width="1.3" />
<line x1="523.65" y1="35.00" x2="523.65" y2="40.00" stroke="#000" stroke-width="1.3" />
<line x1="523.65" y1="630.10" x2="523.65" y2="638.60" stroke="#000" stroke-width="1.3" />
<line x1="523.65" y1="955.80" x2="523.65" y2="953.00" stroke="#000" stroke-width="1.3" />
<line x1="544.25" y1="35.00" x2="544.25" y2="44.00" stroke="#000" stroke-width="1.3" />
<line x1="544.25" y1="626.20" x2="544.25" y2="640.60" stroke="#000" stroke-width="1.3" />
<line x1="544.25" y1="955.80" x2="544.25" y2="950.80" stroke="#000" stroke-width="1.3" />
<line x1="564.84" y1="35.00" x2="564.84" y2="40.00" stroke="#000" stroke-width="1.3" />
<line x1="564.84" y1="630.10" x2="564.84" y2="638.60" stroke="#000" stroke-width="1.3" />
<line x1="564.84" y1="955.80" x2="564.84" y2="953.00" stroke="#000" stroke-width="1.3" />
<line x1="585.43" y1="35.00" x2="585.43" y2="44.00" stroke="#000" stroke-width="1.3" />
<line x1="585.43" y1="626.20" x2="585.43" y2="640.60" stroke="#000" stroke-width="1.3" />
<line x1="585.43" y1="955.80" x2="585.43" y2="950.80" stroke="#000" stroke-width="1.3" />
<line x1="606.03" y1="35.00" x2="606.03" y2="40.00" stroke="#000" stroke-width="1.3" />
<line x1="606.03" y1="630.10" x2="606.03" y2="638.60" stroke="#000" stroke-width="1.3" />
<line x1="606.03" y1="955.80" x2="606.03" y2="953.00" stroke="#000" stroke-width="1.3" />
<line x1="626.62" y1="35.00" x2="626.62" y2="44.00" stroke="#000" stroke-width="1.3" />
<line x1="626.62" y1="626.20" x2="626.62" y2="640.60" stroke="#000" stroke-width="1.3" />
<line x1="626.62" y1="955.80" x2="626.62" y2="950.80" stroke="#000" stroke-width="1.3" />
<line x1="647.21" y1="35.00" x2="647.21" y2="40.00" stroke="#000" stroke-width="1.3" />
<line x1="647.21" y1="630.10" x2="647.21" y2="638.60" stroke="#000" stroke-width="1.3" />
<line x1="647.21" y1="955.80" x2="647.21" y2="953.00" stroke="#000" stroke-width="1.3" />
<line x1="667.80" y1="35.00" x2="667.80" y2="44.00" stroke="#000" stroke-width="1.3" />
<line x1="667.80" y1="626.20" x2="667.80" y2="640.60" stroke="#000" stroke-width="1.3" />
<line x1="667.80" y1="955.80" x2="667.80" y2="950.80" stroke="#000" stroke-width="1.3" />
<line x1="688.40" y1="35.00" x2="688.40" y2="40.00" stroke="#000" stroke-width="1.3" />
<line x1="688.40" y1="630.10" x2="688.40" y2="638.60" stroke="#000" stroke-width="1.3" />
<line x1="688.40" y1="955.80" x2="688.40" y2="953.00" stroke="#000" stroke-width="1.3" />
<line x1="708.99" y1="35.00" x2="708.99" y2="51.80" stroke="#000" stroke-width="1.3" />
<line x1="708.99" y1="618.40" x2="708.99" y2="645.60" stroke="#000" stroke-width="1.3" />
<line x1="708.99" y1="955.80" x2="708.99" y2="946.10" stroke="#000" stroke-width="1.3" />
<line x1="729.58" y1="35.00" x2="729.58" y2="40.00" stroke="#000" stroke-width="1.3" />
<line x1="729.58" y1="630.10" x2="729.58" y2="638.60" stroke="#000" stroke-width="1.3" />
<line x1="729.58" y1="955.80" x2="729.58" y2="953.00" stroke="#000" stroke-width="1.3" />
<line x1="91.00" y1="916.82" x2="105.80" y2="916.82" stroke="#000" stroke-width="1.3" />
<line x1="742.00" y1="916.82" x2="727.80" y2="916.82" stroke="#000" stroke-width="1.3" />
<line x1="91.00" y1="884.94" x2="100.90" y2="884.94" stroke="#000" stroke-width="1.3" />
<line x1="742.00" y1="884.94" x2="732.20" y2="884.94" stroke="#000" stroke-width="1.3" />
<line x1="91.00" y1="857.98" x2="100.90" y2="857.98" stroke="#000" stroke-width="1.3" />
<line x1="742.00" y1="857.98" x2="732.20" y2="857.98" stroke="#000" stroke-width="1.3" />
<line x1="91.00" y1="834.63" x2="100.90" y2="834.63" stroke="#000" stroke-width="1.3" />
<line x1="742.00" y1="834.63" x2="732.20" y2="834.63" stroke="#000" stroke-width="1.3" />
<line x1="91.00" y1="814.03" x2="100.90" y2="814.03" stroke="#000" stroke-width="1.3" />
<line x1="742.00" y1="814.03" x2="732.20" y2="814.03" stroke="#000" stroke-width="1.3" />
<line x1="91.00" y1="778.93" x2="100.90" y2="778.93" stroke="#000" stroke-width="1.3" />
<line x1="742.00" y1="778.93" x2="732.20" y2="778.93" stroke="#000" stroke-width="1.3" />
<line x1="91.00" y1="763.71" x2="100.90" y2="763.71" stroke="#000" stroke-width="1.3" />
<line x1="742.00" y1="763.71" x2="732.20" y2="763.71" stroke="#000" stroke-width="1.3" />
<line x1="91.00" y1="749.72" x2="100.90" y2="749.72" stroke="#000" stroke-width="1.3" />
<line x1="742.00" y1="749.72" x2="732.20" y2="749.72" stroke="#000" stroke-width="1.3" />
<line x1="91.00" y1="736.75" x2="100.90" y2="736.75" stroke="#000" stroke-width="1.3" />
<line x1="742.00" y1="736.75" x2="732.20" y2="736.75" stroke="#000" stroke-width="1.3" />
<line x1="91.00" y1="724.69" x2="105.80" y2="724.69" stroke="#000" stroke-width="1.3" />
<line x1="742.00" y1="724.69" x2="727.80" y2="724.69" stroke="#000" stroke-width="1.3" />
<line x1="91.00" y1="713.40" x2="100.90" y2="713.40" stroke="#000" stroke-width="1.3" />
<line x1="742.00" y1="713.40" x2="732.20" y2="713.40" stroke="#000" stroke-width="1.3" />
<line x1="91.00" y1="702.80" x2="100.90" y2="702.80" stroke="#000" stroke-width="1.3" />
<line x1="742.00" y1="702.80" x2="732.20" y2="702.80" stroke="#000" stroke-width="1.3" />
<line x1="91.00" y1="692.80" x2="100.90" y2="692.80" stroke="#000" stroke-width="1.3" />
<line x1="742.00" y1="692.80" x2="732.20" y2="692.80" stroke="#000" stroke-width="1.3" />
<line x1="91.00" y1="683.35" x2="100.90" y2="683.35" stroke="#000" stroke-width="1.3" />
<line x1="742.00" y1="683.35" x2="732.20" y2="683.35" stroke="#000" stroke-width="1.3" />
<line x1="91.00" y1="674.38" x2="105.80" y2="674.38" stroke="#000" stroke-width="1.3" />
<line x1="742.00" y1="674.38" x2="727.80" y2="674.38" stroke="#000" stroke-width="1.3" />
<line x1="91.00" y1="665.84" x2="100.90" y2="665.84" stroke="#000" stroke-width="1.3" />
<line x1="742.00" y1="665.84" x2="732.20" y2="665.84" stroke="#000" stroke-width="1.3" />
<line x1="91.00" y1="657.71" x2="100.90" y2="657.71" stroke="#000" stroke-width="1.3" />
<line x1="742.00" y1="657.71" x2="732.20" y2="657.71" stroke="#000" stroke-width="1.3" />
<line x1="91.00" y1="649.93" x2="100.90" y2="649.93" stroke="#000" stroke-width="1.3" />
<line x1="742.00" y1="649.93" x2="732.20" y2="649.93" stroke="#000" stroke-width="1.3" />
<line x1="91.00" y1="642.49" x2="100.90" y2="642.49" stroke="#000" stroke-width="1.3" />
<line x1="742.00" y1="642.49" x2="732.20" y2="642.49" stroke="#000" stroke-width="1.3" />
<rect x="109.38" y="145.20" width="11.0" height="11.0" fill="#000"/>
<rect x="117.31" y="172.00" width="11.0" height="11.0" fill="#000"/>
<rect x="126.27" y="196.30" width="11.0" height="11.0" fill="#000"/>
<rect x="136.36" y="218.00" width="11.0" height="11.0" fill="#000"/>
<rect x="147.68" y="237.40" width="11.0" height="11.0" fill="#000"/>
<rect x="160.35" y="256.70" width="11.0" height="11.0" fill="#000"/>
<rect x="174.56" y="274.10" width="11.0" height="11.0" fill="#000"/>
<rect x="190.31" y="291.40" width="11.0" height="11.0" fill="#000"/>
<rect x="207.82" y="308.20" width="11.0" height="11.0" fill="#000"/>
<rect x="227.28" y="324.80" width="11.0" height="11.0" fill="#000"/>
<rect x="248.69" y="340.80" width="11.0" height="11.0" fill="#000"/>
<rect x="272.38" y="356.50" width="11.0" height="11.0" fill="#000"/>
<rect x="298.63" y="372.10" width="11.0" height="11.0" fill="#000"/>
<rect x="327.56" y="388.20" width="11.0" height="11.0" fill="#000"/>
<rect x="359.38" y="404.20" width="11.0" height="11.0" fill="#000"/>
<rect x="394.39" y="419.90" width="11.0" height="11.0" fill="#000"/>
<rect x="432.90" y="437.00" width="11.0" height="11.0" fill="#000"/>
<rect x="475.32" y="454.40" width="11.0" height="11.0" fill="#000"/>
<rect x="522.07" y="471.90" width="11.0" height="11.0" fill="#000"/>
<rect x="573.55" y="491.10" width="11.0" height="11.0" fill="#000"/>
<rect x="630.08" y="511.80" width="11.0" height="11.0" fill="#000"/>
<rect x="692.16" y="537.80" width="11.0" height="11.0" fill="#000"/>
<clipPath id="cm"><rect x="91.0" y="35.0" width="651.0" height="600.0"/></clipPath>
<clipPath id="cr"><rect x="91.0" y="635.0" width="651.0" height="320.80"/></clipPath>
<polyline points="114.88,154.00 122.81,179.80 131.77,204.90 141.86,223.60 153.18,254.70 165.85,268.90 195.81,291.80" stroke="#338c00" stroke-width="1.55" stroke-dasharray="4.4 4" fill="none"/>
<polyline points="153.18,260.00 153.18,263.60" stroke="#338c00" stroke-width="1.55" fill="none"/>
<line x1="150.98" y1="263.60" x2="155.38" y2="263.60" stroke="#338c00" stroke-width="1.6" />
<polyline points="165.85,263.60 165.85,260.60" stroke="#338c00" stroke-width="1.55" fill="none"/>
<line x1="163.65" y1="260.60" x2="168.05" y2="260.60" stroke="#338c00" stroke-width="1.6" />
<polyline points="195.81,286.40 195.81,280.00" stroke="#338c00" stroke-width="1.55" stroke-dasharray="4.4 4" fill="none"/>
<line x1="193.61" y1="280.00" x2="198.01" y2="280.00" stroke="#338c00" stroke-width="1.6" />
<polyline points="195.81,297.40 195.81,635.00" stroke="#338c00" stroke-width="1.55" stroke-dasharray="4.4 4" fill="none"/>
<polyline points="114.88,154.80 122.81,180.10 131.77,205.50 141.86,228.80 153.18,241.50 165.85,286.40 180.06,288.50" stroke="#ff0000" stroke-width="1.55" stroke-dasharray="2.1 2.02" fill="none"/>
<polyline points="165.85,292.50 165.85,635.00" stroke="#ff0000" stroke-width="1.55" stroke-dasharray="2.1 2.02" fill="none"/>
<polyline points="180.06,294.60 180.06,635.00" stroke="#ff0000" stroke-width="1.55" stroke-dasharray="2.1 2.02" fill="none"/>
<rect x="109.73" y="148.85" width="10.3" height="10.3" fill="none" stroke="#338c00" stroke-width="1.6"/>
<rect x="117.66" y="174.65" width="10.3" height="10.3" fill="none" stroke="#338c00" stroke-width="1.6"/>
<rect x="126.62" y="199.75" width="10.3" height="10.3" fill="none" stroke="#338c00" stroke-width="1.6"/>
<rect x="136.71" y="218.45" width="10.3" height="10.3" fill="none" stroke="#338c00" stroke-width="1.6"/>
<rect x="148.03" y="249.55" width="10.3" height="10.3" fill="none" stroke="#338c00" stroke-width="1.6"/>
<rect x="160.70" y="263.75" width="10.3" height="10.3" fill="none" stroke="#338c00" stroke-width="1.6"/>
<rect x="190.66" y="286.65" width="10.3" height="10.3" fill="none" stroke="#338c00" stroke-width="1.6"/>
<polygon points="114.88,148.70 119.08,154.80 114.88,160.90 110.68,154.80" fill="#ff0000"/>
<polygon points="122.81,174.00 127.01,180.10 122.81,186.20 118.61,180.10" fill="#ff0000"/>
<polygon points="131.77,199.40 135.97,205.50 131.77,211.60 127.57,205.50" fill="#ff0000"/>
<polygon points="141.86,222.70 146.06,228.80 141.86,234.90 137.66,228.80" fill="#ff0000"/>
<polygon points="153.18,235.40 157.38,241.50 153.18,247.60 148.98,241.50" fill="#ff0000"/>
<polygon points="165.85,280.30 170.05,286.40 165.85,292.50 161.65,286.40" fill="#ff0000"/>
<polygon points="180.06,282.40 184.26,288.50 180.06,294.60 175.86,288.50" fill="#ff0000"/>
<polyline points="114.88,829.70 122.81,814.40 131.77,829.70 141.86,800.10 153.18,907.50 165.85,863.50 195.81,750.10" stroke="#338c00" stroke-width="1.55" stroke-dasharray="4.4 4" fill="none" clip-path="url(#cr)"/>
<polyline points="122.81,804.00 122.81,809.20" stroke="#338c00" stroke-width="1.55" stroke-dasharray="4.4 4" fill="none"/>
<line x1="120.61" y1="804.00" x2="125.01" y2="804.00" stroke="#338c00" stroke-width="1.6" />
<polyline points="122.81,819.60 122.81,824.00" stroke="#338c00" stroke-width="1.55" stroke-dasharray="4.4 4" fill="none"/>
<polyline points="131.77,810.40 131.77,824.50" stroke="#338c00" stroke-width="1.55" stroke-dasharray="4.4 4" fill="none"/>
<line x1="129.57" y1="810.40" x2="133.97" y2="810.40" stroke="#338c00" stroke-width="1.6" />
<polyline points="131.77,834.90 131.77,850.90" stroke="#338c00" stroke-width="1.55" stroke-dasharray="4.4 4" fill="none"/>
<line x1="129.57" y1="850.90" x2="133.97" y2="850.90" stroke="#338c00" stroke-width="1.6" />
<polyline points="141.86,770.70 141.86,794.90" stroke="#338c00" stroke-width="1.55" stroke-dasharray="4.4 4" fill="none"/>
<line x1="139.66" y1="770.70" x2="144.06" y2="770.70" stroke="#338c00" stroke-width="1.6" />
<polyline points="141.86,805.30 141.86,835.30" stroke="#338c00" stroke-width="1.55" stroke-dasharray="4.4 4" fill="none"/>
<line x1="139.66" y1="835.30" x2="144.06" y2="835.30" stroke="#338c00" stroke-width="1.6" />
<polyline points="153.18,847.50 153.18,902.30" stroke="#338c00" stroke-width="1.55" stroke-dasharray="4.4 4" fill="none"/>
<line x1="150.98" y1="847.50" x2="155.38" y2="847.50" stroke="#338c00" stroke-width="1.6" />
<polyline points="153.18,912.70 153.18,955.80" stroke="#338c00" stroke-width="1.55" stroke-dasharray="4.4 4" fill="none"/>
<polyline points="165.85,783.90 165.85,858.30" stroke="#338c00" stroke-width="1.55" stroke-dasharray="4.4 4" fill="none"/>
<line x1="163.65" y1="783.90" x2="168.05" y2="783.90" stroke="#338c00" stroke-width="1.6" />
<polyline points="165.85,868.70 165.85,955.80" stroke="#338c00" stroke-width="1.55" stroke-dasharray="4.4 4" fill="none"/>
<polyline points="195.81,635.00 195.81,744.90" stroke="#338c00" stroke-width="1.55" stroke-dasharray="4.4 4" fill="none"/>
<polyline points="195.81,755.30 195.81,955.80" stroke="#338c00" stroke-width="1.55" stroke-dasharray="4.4 4" fill="none"/>
<polyline points="114.88,835.30 122.81,816.90 131.77,833.60 141.86,847.60 153.18,778.20 165.85,1038.00 180.06,879.70" stroke="#ff0000" stroke-width="1.55" stroke-dasharray="2.1 2.02" fill="none" clip-path="url(#cr)"/>
<polyline points="114.88,829.00 114.88,842.00" stroke="#ff0000" stroke-width="1.55" stroke-dasharray="2.1 2.02" fill="none"/>
<polyline points="122.81,806.30 122.81,824.50" stroke="#ff0000" stroke-width="1.55" stroke-dasharray="2.1 2.02" fill="none"/>
<line x1="121.21" y1="806.30" x2="124.41" y2="806.30" stroke="#ff0000" stroke-width="1.6" />
<polyline points="131.77,810.90 131.77,857.20" stroke="#ff0000" stroke-width="1.55" stroke-dasharray="2.1 2.02" fill="none"/>
<line x1="130.17" y1="857.20" x2="133.37" y2="857.20" stroke="#ff0000" stroke-width="1.6" />
<polyline points="141.86,812.90 141.86,892.80" stroke="#ff0000" stroke-width="1.55" stroke-dasharray="2.1 2.02" fill="none"/>
<line x1="140.26" y1="892.80" x2="143.46" y2="892.80" stroke="#ff0000" stroke-width="1.6" />
<polyline points="153.18,731.30 153.18,841.40" stroke="#ff0000" stroke-width="1.55" stroke-dasharray="2.1 2.02" fill="none"/>
<line x1="151.58" y1="731.30" x2="154.78" y2="731.30" stroke="#ff0000" stroke-width="1.6" />
<line x1="151.58" y1="841.40" x2="154.78" y2="841.40" stroke="#ff0000" stroke-width="1.6" />
<polyline points="180.06,758.10 180.06,955.80" stroke="#ff0000" stroke-width="1.55" stroke-dasharray="2.1 2.02" fill="none"/>
<line x1="178.46" y1="758.10" x2="181.66" y2="758.10" stroke="#ff0000" stroke-width="1.6" />
<rect x="109.73" y="824.55" width="10.3" height="10.3" fill="none" stroke="#338c00" stroke-width="1.6"/>
<rect x="117.66" y="809.25" width="10.3" height="10.3" fill="none" stroke="#338c00" stroke-width="1.6"/>
<rect x="126.62" y="824.55" width="10.3" height="10.3" fill="none" stroke="#338c00" stroke-width="1.6"/>
<rect x="136.71" y="794.95" width="10.3" height="10.3" fill="none" stroke="#338c00" stroke-width="1.6"/>
<rect x="148.03" y="902.35" width="10.3" height="10.3" fill="none" stroke="#338c00" stroke-width="1.6"/>
<rect x="160.70" y="858.35" width="10.3" height="10.3" fill="none" stroke="#338c00" stroke-width="1.6"/>
<rect x="190.66" y="744.95" width="10.3" height="10.3" fill="none" stroke="#338c00" stroke-width="1.6"/>
<polygon points="114.88,829.20 119.08,835.30 114.88,841.40 110.68,835.30" fill="#ff0000"/>
<polygon points="122.81,810.80 127.01,816.90 122.81,823.00 118.61,816.90" fill="#ff0000"/>
<polygon points="131.77,827.50 135.97,833.60 131.77,839.70 127.57,833.60" fill="#ff0000"/>
<polygon points="141.86,841.50 146.06,847.60 141.86,853.70 137.66,847.60" fill="#ff0000"/>
<polygon points="153.18,772.10 157.38,778.20 153.18,784.30 148.98,778.20" fill="#ff0000"/>
<polygon points="180.06,873.60 184.26,879.70 180.06,885.80 175.86,879.70" fill="#ff0000"/>
<rect x="147.60" y="481.50" width="11.0" height="11.0" fill="#000"/>
<polyline points="128.60,513.30 177.50,513.30" stroke="#338c00" stroke-width="1.55" stroke-dasharray="4.4 4" fill="none"/>
<rect x="147.95" y="508.15" width="10.3" height="10.3" fill="none" stroke="#338c00" stroke-width="1.6"/>
<polyline points="128.60,539.00 177.50,539.00" stroke="#ff0000" stroke-width="1.55" stroke-dasharray="2.1 2.02" fill="none"/>
<polygon points="153.10,532.90 157.30,539.00 153.10,545.10 148.90,539.00" fill="#ff0000"/>
<g transform="translate(186.50,493.20) scale(1,1.045)" fill="#000" aria-label="CMS"><text x="0.00" y="0.00" font-size="19.05">CMS</text></g>
<g transform="translate(186.30,519.50) scale(1,1.045)" fill="#000" aria-label="Herwig 7.2.1 default"><text x="0.00" y="0.00" font-size="19.05">Herwig 7.2.</text><path d="M103.45 0.00L101.77 0.00L101.77 -10.21Q101.17 -9.66 100.18 -9.11Q99.20 -8.56 98.42 -8.28L98.42 -9.83Q99.83 -10.46 100.88 -11.36Q101.93 -12.26 102.37 -13.11L103.45 -13.11Z"/><text x="106.94" y="0.00" font-size="19.05"> default</text></g>
<g transform="translate(186.60,545.20) scale(1,1.045)" fill="#000" aria-label="Sherpa 1.4.5 default"><text x="0.00" y="0.00" font-size="19.05">Sherpa </text><path d="M73.82 0.00L72.15 0.00L72.15 -10.21Q71.54 -9.66 70.56 -9.11Q69.58 -8.56 68.80 -8.28L68.80 -9.83Q70.20 -10.46 71.25 -11.36Q72.30 -12.26 72.74 -13.11L73.82 -13.11Z"/><text x="77.32" y="0.00" font-size="19.05">.4.5 default</text></g>
<g transform="translate(102.95,29.00) scale(1,1.045)" fill="#000" aria-label="13000 GeV pp"><path d="M9.04 0.00L6.91 0.00L6.91 -13.01Q6.14 -12.30 4.89 -11.60Q3.64 -10.90 2.64 -10.54L2.64 -12.52Q4.43 -13.32 5.77 -14.47Q7.11 -15.61 7.66 -16.69L9.04 -16.69Z"/><text x="13.49" y="0.00" font-size="24.26">3000 GeV pp</text></g>
<g transform="translate(686.93,28.90) scale(1,1.045)" fill="#000" aria-label="Jets"><text x="0.00" y="0.00" font-size="24.0">Jets</text></g>
<g transform="translate(113.67,86.70) scale(1,1.045)" fill="#000" aria-label="CMS, #sqrt(s) = 13 TeV, Inclusive AK7 jets, 0.0 &lt; |y| &lt; 0.5"><text x="0.00" y="0.00" font-size="24.21">CMS, #sqrt(s) = </text><path d="M185.91 0.00L183.79 0.00L183.79 -12.98Q183.02 -12.28 181.77 -11.57Q180.52 -10.87 179.53 -10.52L179.53 -12.49Q181.31 -13.29 182.65 -14.44Q183.99 -15.58 184.54 -16.66L185.91 -16.66Z"/><text x="190.36" y="0.00" font-size="24.21">3 TeV, Inclusive AK7 jets, 0.0 &lt; |y| &lt; 0.5</text></g>
<g transform="translate(333.52,604.20) scale(1,1.045)" fill="#999" aria-label="(CMS_2021_I1972986)"><text x="0.00" y="0.00" font-size="15.86">(CMS_202</text><path d="M81.72 0.00L80.32 0.00L80.32 -8.50Q79.82 -8.04 79.00 -7.58Q78.18 -7.12 77.53 -6.89L77.53 -8.18Q78.70 -8.71 79.58 -9.46Q80.45 -10.21 80.82 -10.91L81.72 -10.91Z"/><text x="84.63" y="0.00" font-size="15.86">_I</text><path d="M103.76 0.00L102.37 0.00L102.37 -8.50Q101.87 -8.04 101.05 -7.58Q100.23 -7.12 99.58 -6.89L99.58 -8.18Q100.75 -8.71 101.63 -9.46Q102.50 -10.21 102.87 -10.91L103.76 -10.91Z"/><text x="106.68" y="0.00" font-size="15.86">972986)</text></g>
<g transform="translate(79.6,623.26) scale(1,1.045)" aria-label="10^-7"><path d="M-33.60 0.00L-35.54 0.00L-35.54 -11.79Q-36.24 -11.16 -37.37 -10.52Q-38.50 -9.88 -39.40 -9.56L-39.40 -11.35Q-37.78 -12.08 -36.57 -13.12Q-35.35 -14.16 -34.85 -15.14L-33.60 -15.14Z"/><text x="-29.57" y="0.00" font-size="22.0">0</text><rect x="-16.57" y="-13.94" width="7.37" height="0.91"/><text x="-8.45" y="-9.38" font-size="15.2">7</text></g>
<g transform="translate(79.6,581.94) scale(1,1.045)" aria-label="10^-6"><path d="M-33.60 0.00L-35.54 0.00L-35.54 -11.79Q-36.24 -11.16 -37.37 -10.52Q-38.50 -9.88 -39.40 -9.56L-39.40 -11.35Q-37.78 -12.08 -36.57 -13.12Q-35.35 -14.16 -34.85 -15.14L-33.60 -15.14Z"/><text x="-29.57" y="0.00" font-size="22.0">0</text><rect x="-16.57" y="-13.94" width="7.37" height="0.91"/><text x="-8.45" y="-9.38" font-size="15.2">6</text></g>
<g transform="translate(79.6,540.62) scale(1,1.045)" aria-label="10^-5"><path d="M-33.60 0.00L-35.54 0.00L-35.54 -11.79Q-36.24 -11.16 -37.37 -10.52Q-38.50 -9.88 -39.40 -9.56L-39.40 -11.35Q-37.78 -12.08 -36.57 -13.12Q-35.35 -14.16 -34.85 -15.14L-33.60 -15.14Z"/><text x="-29.57" y="0.00" font-size="22.0">0</text><rect x="-16.57" y="-13.94" width="7.37" height="0.91"/><text x="-8.45" y="-9.38" font-size="15.2">5</text></g>
<g transform="translate(79.6,499.30) scale(1,1.045)" aria-label="10^-4"><path d="M-33.60 0.00L-35.54 0.00L-35.54 -11.79Q-36.24 -11.16 -37.37 -10.52Q-38.50 -9.88 -39.40 -9.56L-39.40 -11.35Q-37.78 -12.08 -36.57 -13.12Q-35.35 -14.16 -34.85 -15.14L-33.60 -15.14Z"/><text x="-29.57" y="0.00" font-size="22.0">0</text><rect x="-16.57" y="-13.94" width="7.37" height="0.91"/><text x="-8.45" y="-9.38" font-size="15.2">4</text></g>
<g transform="translate(79.6,457.98) scale(1,1.045)" aria-label="10^-3"><path d="M-33.60 0.00L-35.54 0.00L-35.54 -11.79Q-36.24 -11.16 -37.37 -10.52Q-38.50 -9.88 -39.40 -9.56L-39.40 -11.35Q-37.78 -12.08 -36.57 -13.12Q-35.35 -14.16 -34.85 -15.14L-33.60 -15.14Z"/><text x="-29.57" y="0.00" font-size="22.0">0</text><rect x="-16.57" y="-13.94" width="7.37" height="0.91"/><text x="-8.45" y="-9.38" font-size="15.2">3</text></g>
<g transform="translate(79.6,416.66) scale(1,1.045)" aria-label="10^-2"><path d="M-33.60 0.00L-35.54 0.00L-35.54 -11.79Q-36.24 -11.16 -37.37 -10.52Q-38.50 -9.88 -39.40 -9.56L-39.40 -11.35Q-37.78 -12.08 -36.57 -13.12Q-35.35 -14.16 -34.85 -15.14L-33.60 -15.14Z"/><text x="-29.57" y="0.00" font-size="22.0">0</text><rect x="-16.57" y="-13.94" width="7.37" height="0.91"/><text x="-8.45" y="-9.38" font-size="15.2">2</text></g>
<g transform="translate(81.8,375.34) scale(1,1.045)" aria-label="10^-1"><path d="M-33.60 0.00L-35.54 0.00L-35.54 -11.79Q-36.24 -11.16 -37.37 -10.52Q-38.50 -9.88 -39.40 -9.56L-39.40 -11.35Q-37.78 -12.08 -36.57 -13.12Q-35.35 -14.16 -34.85 -15.14L-33.60 -15.14Z"/><text x="-29.57" y="0.00" font-size="22.0">0</text><rect x="-16.57" y="-13.94" width="7.37" height="0.91"/><path d="M-2.79 -9.38L-4.13 -9.38L-4.13 -17.53Q-4.61 -17.09 -5.39 -16.65Q-6.18 -16.20 -6.80 -15.98L-6.80 -17.22Q-5.68 -17.72 -4.84 -18.44Q-4.00 -19.16 -3.65 -19.84L-2.79 -19.84Z"/></g>
<g transform="translate(82.90,331.02) scale(1,1.045)" fill="#000" aria-label="1"><path d="M-4.04 0.00L-5.97 0.00L-5.97 -11.79Q-6.67 -11.16 -7.80 -10.52Q-8.94 -9.88 -9.84 -9.56L-9.84 -11.35Q-8.22 -12.08 -7.00 -13.12Q-5.79 -14.16 -5.29 -15.14L-4.04 -15.14Z"/></g>
<g transform="translate(79.20,290.10) scale(1,1.045)" fill="#000" aria-label="10"><path d="M-16.27 0.00L-18.21 0.00L-18.21 -11.79Q-18.91 -11.16 -20.04 -10.52Q-21.17 -9.88 -22.07 -9.56L-22.07 -11.35Q-20.45 -12.08 -19.24 -13.12Q-18.02 -14.16 -17.52 -15.14L-16.27 -15.14Z"/><text x="-12.24" y="0.00" font-size="22.0">0</text></g>
<g transform="translate(79.6,251.38) scale(1,1.045)" aria-label="10^2"><path d="M-24.73 0.00L-26.66 0.00L-26.66 -11.79Q-27.36 -11.16 -28.49 -10.52Q-29.63 -9.88 -30.53 -9.56L-30.53 -11.35Q-28.91 -12.08 -27.69 -13.12Q-26.48 -14.16 -25.97 -15.14L-24.73 -15.14Z"/><text x="-20.69" y="0.00" font-size="22.0">0</text><text x="-8.45" y="-9.38" font-size="15.2">2</text></g>
<g transform="translate(79.6,210.06) scale(1,1.045)" aria-label="10^3"><path d="M-24.73 0.00L-26.66 0.00L-26.66 -11.79Q-27.36 -11.16 -28.49 -10.52Q-29.63 -9.88 -30.53 -9.56L-30.53 -11.35Q-28.91 -12.08 -27.69 -13.12Q-26.48 -14.16 -25.97 -15.14L-24.73 -15.14Z"/><text x="-20.69" y="0.00" font-size="22.0">0</text><text x="-8.45" y="-9.38" font-size="15.2">3</text></g>
<g transform="translate(79.6,168.74) scale(1,1.045)" aria-label="10^4"><path d="M-24.73 0.00L-26.66 0.00L-26.66 -11.79Q-27.36 -11.16 -28.49 -10.52Q-29.63 -9.88 -30.53 -9.56L-30.53 -11.35Q-28.91 -12.08 -27.69 -13.12Q-26.48 -14.16 -25.97 -15.14L-24.73 -15.14Z"/><text x="-20.69" y="0.00" font-size="22.0">0</text><text x="-8.45" y="-9.38" font-size="15.2">4</text></g>
<g transform="translate(79.6,127.42) scale(1,1.045)" aria-label="10^5"><path d="M-24.73 0.00L-26.66 0.00L-26.66 -11.79Q-27.36 -11.16 -28.49 -10.52Q-29.63 -9.88 -30.53 -9.56L-30.53 -11.35Q-28.91 -12.08 -27.69 -13.12Q-26.48 -14.16 -25.97 -15.14L-24.73 -15.14Z"/><text x="-20.69" y="0.00" font-size="22.0">0</text><text x="-8.45" y="-9.38" font-size="15.2">5</text></g>
<g transform="translate(79.6,86.10) scale(1,1.045)" aria-label="10^6"><path d="M-24.73 0.00L-26.66 0.00L-26.66 -11.79Q-27.36 -11.16 -28.49 -10.52Q-29.63 -9.88 -30.53 -9.56L-30.53 -11.35Q-28.91 -12.08 -27.69 -13.12Q-26.48 -14.16 -25.97 -15.14L-24.73 -15.14Z"/><text x="-20.69" y="0.00" font-size="22.0">0</text><text x="-8.45" y="-9.38" font-size="15.2">6</text></g>
<g transform="translate(77.00,682.58) scale(1,1.045)" fill="#000" aria-label="2"><text x="-12.79" y="0.00" font-size="23.0">2</text></g>
<g transform="translate(748.00,682.78) scale(1,1.045)" fill="#000" aria-label="2"><text x="0.00" y="0.00" font-size="23.4">2</text></g>
<g transform="translate(78.80,803.80) scale(1,1.045)" fill="#000" aria-label="1"><path d="M-4.22 0.00L-6.24 0.00L-6.24 -12.33Q-6.97 -11.66 -8.16 -11.00Q-9.34 -10.33 -10.29 -10.00L-10.29 -11.87Q-8.59 -12.63 -7.32 -13.72Q-6.05 -14.80 -5.53 -15.82L-4.22 -15.82Z"/></g>
<g transform="translate(747.20,804.00) scale(1,1.045)" fill="#000" aria-label="1"><path d="M8.72 0.00L6.66 0.00L6.66 -12.54Q5.92 -11.87 4.71 -11.19Q3.51 -10.51 2.55 -10.17L2.55 -12.07Q4.27 -12.85 5.56 -13.95Q6.86 -15.06 7.39 -16.10L8.72 -16.10Z"/></g>
<g transform="translate(77.00,925.02) scale(1,1.045)" fill="#000" aria-label="0.5"><text x="-31.97" y="0.00" font-size="23.0">0.5</text></g>
<g transform="translate(748.00,925.22) scale(1,1.045)" fill="#000" aria-label="0.5"><text x="0.00" y="0.00" font-size="23.4">0.5</text></g>
<g transform="translate(91.50,978.30) scale(1,1.045)" fill="#000" aria-label="0"><text x="-6.45" y="0.00" font-size="23.2">0</text></g>
<g transform="translate(297.93,978.30) scale(1,1.045)" fill="#000" aria-label="1000"><path d="M-17.16 0.00L-19.20 0.00L-19.20 -12.44Q-19.94 -11.76 -21.13 -11.09Q-22.33 -10.42 -23.28 -10.08L-23.28 -11.97Q-21.57 -12.74 -20.29 -13.83Q-19.01 -14.93 -18.48 -15.96L-17.16 -15.96Z"/><text x="-12.90" y="0.00" font-size="23.2">000</text></g>
<g transform="translate(503.36,978.30) scale(1,1.045)" fill="#000" aria-label="2000"><text x="-25.81" y="0.00" font-size="23.2">2000</text></g>
<g transform="translate(708.59,978.30) scale(1,1.045)" fill="#000" aria-label="3000"><text x="-25.81" y="0.00" font-size="23.2">3000</text></g>
<g transform="translate(649.80,1002.90) scale(1,1.045)" fill="#000" aria-label="p"><text x="0.00" y="0.00" font-size="25.8">p</text></g>
<g transform="translate(662.80,1016.20) scale(1,1.045)" fill="#000" aria-label="T"><text x="0.00" y="0.00" font-size="17">T</text></g>
<g transform="translate(679.95,1002.90) scale(1,1.045)" fill="#000" aria-label="[GeV]"><text x="0.00" y="0.00" font-size="26.0">[GeV]</text></g>
<g transform="translate(31.00,239.90) rotate(-90) scale(1,1.045)" fill="#000" aria-label="d"><text x="0.00" y="0.00" font-size="24.4">d</text></g>
<g transform="translate(18.00,227.70) rotate(-90) scale(1,1.045)" fill="#000" aria-label="2"><text x="0.00" y="0.00" font-size="15">2</text></g>
<g transform="translate(31.00,219.20) rotate(-90) scale(1,1.045)" fill="#000" aria-label="σ"><text x="0.00" y="0.00" font-size="24.4">σ</text></g>
<g transform="translate(31.00,204.70) rotate(-90) scale(1,1.045)" fill="#000" aria-label="/dp"><text x="0.00" y="0.00" font-size="24.4">/dp</text></g>
<g transform="translate(42.30,170.30) rotate(-90) scale(1,1.045)" fill="#000" aria-label="T"><text x="0.00" y="0.00" font-size="15.5">T</text></g>
<g transform="translate(31.00,159.80) rotate(-90) scale(1,1.045)" fill="#000" aria-label="dy [pb/GeV]"><text x="0.00" y="0.00" font-size="24.4">dy [pb/GeV]</text></g>
<g transform="translate(36.00,846.98) rotate(-90) scale(1,1.045)" fill="#000" aria-label="Ratio to CMS"><text x="0.00" y="0.00" font-size="18.03">Ratio to CMS</text></g>
<g transform="translate(760.40,254.60) rotate(-90) scale(1,1.045)" fill="#707070" aria-label="Rivet 4.1.0, ≥ 100k events"><text x="0.00" y="0.00" font-size="18.85">Rivet 4.</text><path d="M70.93 0.00L69.27 0.00L69.27 -10.11Q68.67 -9.56 67.70 -9.01Q66.73 -8.47 65.96 -8.19L65.96 -9.73Q67.35 -10.35 68.39 -11.24Q69.43 -12.13 69.86 -12.97L70.93 -12.97Z"/><text x="74.39" y="0.00" font-size="18.85">.0, ≥ </text><path d="M123.19 0.00L121.53 0.00L121.53 -10.11Q120.93 -9.56 119.96 -9.01Q118.99 -8.47 118.22 -8.19L118.22 -9.73Q119.61 -10.35 120.65 -11.24Q121.69 -12.13 122.12 -12.97L123.19 -12.97Z"/><text x="126.65" y="0.00" font-size="18.85">00k events</text></g>
<g transform="translate(762.20,629.06) rotate(-90) scale(1,1.045)" fill="#707070" aria-label="mcplots.cern.ch [arXiv:2401.10621]"><text x="0.00" y="0.00" font-size="19.0">mcplots.cern.ch [arXiv:240</text><path d="M230.95 0.00L229.28 0.00L229.28 -10.19Q228.68 -9.63 227.70 -9.08Q226.72 -8.53 225.94 -8.26L225.94 -9.80Q227.34 -10.43 228.39 -11.33Q229.44 -12.23 229.87 -13.07L230.95 -13.07Z"/><text x="234.44" y="0.00" font-size="19.0">.</text><path d="M246.80 0.00L245.13 0.00L245.13 -10.19Q244.52 -9.63 243.54 -9.08Q242.57 -8.53 241.79 -8.26L241.79 -9.80Q243.19 -10.43 244.24 -11.33Q245.28 -12.23 245.72 -13.07L246.80 -13.07Z"/><text x="250.28" y="0.00" font-size="19.0">062</text><path d="M289.06 0.00L287.39 0.00L287.39 -10.19Q286.79 -9.63 285.81 -9.08Q284.83 -8.53 284.05 -8.26L284.05 -9.80Q285.45 -10.43 286.50 -11.33Q287.55 -12.23 287.99 -13.07L289.06 -13.07Z"/><text x="292.55" y="0.00" font-size="19.0">]</text></g>
</g>
</svg>
</body></html>
